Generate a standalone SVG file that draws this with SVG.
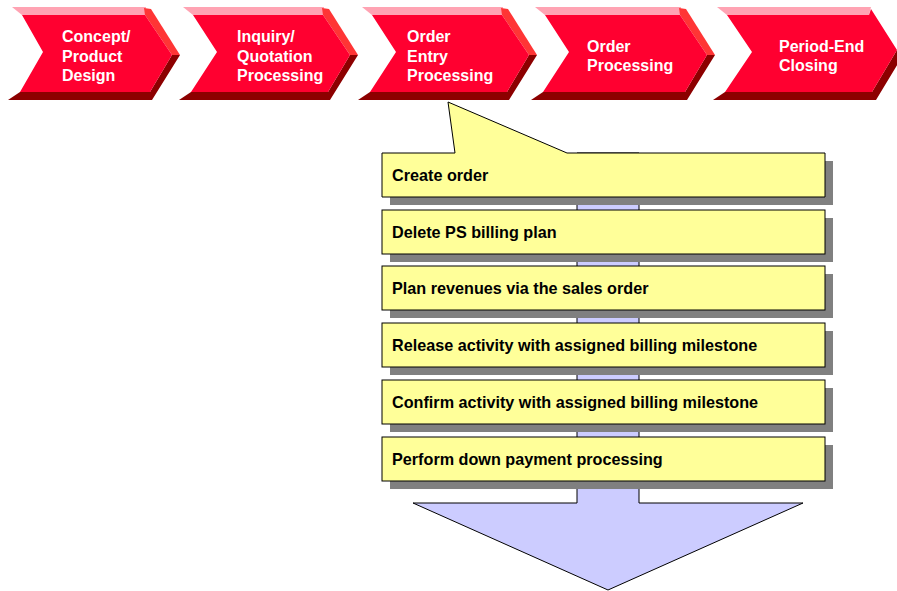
<svg xmlns="http://www.w3.org/2000/svg" width="897" height="591" viewBox="0 0 897 591">
<style>
.pink{fill:#FFA3B3}
.bright{fill:#FF3535}
.dark{fill:#8C0000}
.front{fill:#FF0030}
.ct{font-family:"Liberation Sans",Arial,sans-serif;font-weight:bold;font-size:16px;fill:#FFFFFF}
.bt{font-family:"Liberation Sans",Arial,sans-serif;font-weight:bold;font-size:16.2px;fill:#000000}
.box{fill:#FFFF99;stroke:#000000;stroke-width:1}
.shadow{fill:#808080}
.arrow{fill:#CCCCFF;stroke:#000000;stroke-width:1}
</style>
<rect width="897" height="591" fill="#FFFFFF"/>
<g id="connectors">
<polygon class="arrow" points="577,153 639,153 639,503 803,503 608,590 413,503 577,503"/>
</g>
<g id="step1">
<polygon class="pink" points="12,7 146,7 145,15 22,15"/>
<polygon class="bright" points="144,8 151,9 180,55 172,55 145,15"/>
<polygon class="dark" points="172,55 180,55 152,100 8,100 20,92 150,92"/>
<polygon class="front" points="22,15 145,15 172,55 150,92 20,92 43,52"/>
<text class="ct" x="62" y="42">Concept/</text>
<text class="ct" x="62" y="62">Product</text>
<text class="ct" x="62" y="81">Design</text>
</g>
<g id="step2">
<polygon class="pink" points="183,7 324,7 323,15 193,15"/>
<polygon class="bright" points="322,8 329,9 358,55 350,55 323,15"/>
<polygon class="dark" points="350,55 358,55 330,100 179,100 191,92 328,92"/>
<polygon class="front" points="193,15 323,15 350,55 328,92 191,92 217,52"/>
<text class="ct" x="237" y="42">Inquiry/</text>
<text class="ct" x="237" y="62">Quotation</text>
<text class="ct" x="237" y="81">Processing</text>
</g>
<g id="step3">
<polygon class="pink" points="362,7 503,7 502,15 372,15"/>
<polygon class="bright" points="501,8 508,9 537,55 529,55 502,15"/>
<polygon class="dark" points="529,55 537,55 509,100 358,100 370,92 507,92"/>
<polygon class="front" points="372,15 502,15 529,55 507,92 370,92 396,52"/>
<text class="ct" x="407" y="42">Order</text>
<text class="ct" x="407" y="62">Entry</text>
<text class="ct" x="407" y="81">Processing</text>
</g>
<g id="step4">
<polygon class="pink" points="535,7 681,7 680,15 545,15"/>
<polygon class="bright" points="679,8 686,9 715,55 707,55 680,15"/>
<polygon class="dark" points="707,55 715,55 687,100 531,100 543,92 685,92"/>
<polygon class="front" points="545,15 680,15 707,55 685,92 543,92 569,52"/>
<text class="ct" x="587" y="52">Order</text>
<text class="ct" x="587" y="71">Processing</text>
</g>
<g id="step5">
<polygon class="pink" points="717,7 871,7 869,15 727,15"/>
<polygon class="dark" points="897,50 905,52 876,100 713,100 725,92 872,92"/>
<polygon class="front" points="727,15 869,15 871,9 897,50 872,92 725,92 752,52"/>
<text class="ct" x="779" y="52">Period-End</text>
<text class="ct" x="779" y="71">Closing</text>
</g>
<g id="task1">
<rect class="shadow" x="390" y="161" width="443" height="44"/>
<path class="box" d="M382,153 L455,153 L448,102 L567,153 L825,153 L825,197 L382,197 Z"/>
<text class="bt" x="392" y="181">Create order</text>
</g>
<g id="task2">
<rect class="shadow" x="390" y="218" width="443" height="44"/>
<rect class="box" x="382" y="210" width="443" height="44"/>
<text class="bt" x="392" y="238">Delete PS billing plan</text>
</g>
<g id="task3">
<rect class="shadow" x="390" y="274" width="443" height="44"/>
<rect class="box" x="382" y="266" width="443" height="44"/>
<text class="bt" x="392" y="294">Plan revenues via the sales order</text>
</g>
<g id="task4">
<rect class="shadow" x="390" y="331" width="443" height="44"/>
<rect class="box" x="382" y="323" width="443" height="44"/>
<text class="bt" x="392" y="351">Release activity with assigned billing milestone</text>
</g>
<g id="task5">
<rect class="shadow" x="390" y="388" width="443" height="44"/>
<rect class="box" x="382" y="380" width="443" height="44"/>
<text class="bt" x="392" y="408">Confirm activity with assigned billing milestone</text>
</g>
<g id="task6">
<rect class="shadow" x="390" y="445" width="443" height="44"/>
<rect class="box" x="382" y="437" width="443" height="44"/>
<text class="bt" x="392" y="465">Perform down payment processing</text>
</g>
</svg>
